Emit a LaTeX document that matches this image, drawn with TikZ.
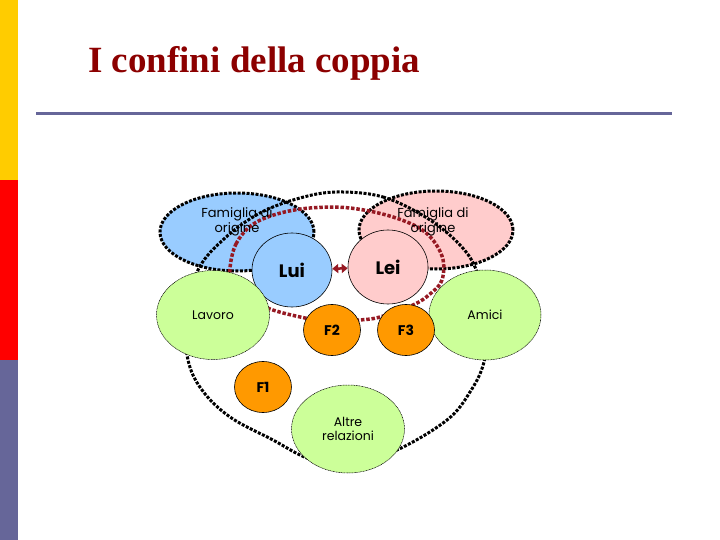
\documentclass[tikz,border=0pt]{standalone}
\usepackage{fontspec}
\usepackage{tikz}
\usetikzlibrary{shapes.geometric,arrows.meta}
\newfontfamily\titlefont{Liberation Serif}
\newfontfamily\diafont{Poppins}

\definecolor{barYellow}{RGB}{255,204,0}
\definecolor{barRed}{RGB}{255,0,0}
\definecolor{barBlue}{RGB}{102,102,153}
\definecolor{titleRed}{RGB}{140,0,0}
\definecolor{confine}{RGB}{150,25,35}
\definecolor{luiBlue}{RGB}{153,204,255}
\definecolor{leiPink}{RGB}{255,204,204}
\definecolor{amiciGreen}{RGB}{204,255,153}
\definecolor{figlioOrange}{RGB}{255,153,0}

\tikzset{
  famiglia/.style={ellipse, fill=#1, draw=black, line width=3pt, dash pattern=on 3pt off 1.5pt,
    minimum width=154pt, minimum height=78pt},
  famTxt/.style={align=center, font=\diafont\fontsize{13}{13}\selectfont},
  partner/.style={ellipse, fill=#1, draw=black, line width=0.6pt, minimum width=80pt, minimum height=74pt,
    font=\diafont\bfseries\fontsize{18}{18}\selectfont},
  mondo/.style={ellipse, fill=amiciGreen, draw=black, line width=0.5pt, dash pattern=on 1pt off 0.6pt,
    minimum width=113pt, minimum height=89pt, align=center, font=\diafont\fontsize{12.5}{14}\selectfont},
  figlio/.style={ellipse, fill=figlioOrange, draw=black, line width=0.6pt, minimum width=57pt, minimum height=51pt,
    font=\diafont\bfseries\fontsize{14}{14}\selectfont},
  confineNero/.style={black, line width=3pt, dash pattern=on 3pt off 1.5pt},
  confineRosso/.style={confine, line width=3.5pt, dash pattern=on 3.5pt off 1.8pt}
}

\begin{document}
\begin{tikzpicture}[x=1pt,y=-1pt]
\useasboundingbox (0,0) rectangle (720,540);
% side bars and title
\fill[barYellow] (0,0) rectangle (18,180);
\fill[barRed] (0,180) rectangle (18,360);
\fill[barBlue] (0,360) rectangle (18,540);
\node[anchor=base west, text=titleRed, font=\titlefont\bfseries\fontsize{37}{37}\selectfont, inner sep=0pt] (titolo) at (88,73) {I confini della coppia};
\draw[barBlue, line width=3pt] (36,114) -- (672,114);

% famiglie di origine
\node[famiglia=luiBlue] (famLui) at (237,232) {};
\node[famiglia=leiPink] (famLei) at (436,230) {};

% confine esterno
\draw[confineNero] plot[smooth cycle, tension=0.6] coordinates {
  (337,192) (383,197) (427,218) (460,245) (477,272) (488,320) (484,362) (470,392)
  (447,420) (397,450) (345,467) (307,458) (273,440) (230,417) (202,390) (188,360)
  (186,318) (198,270) (225,238) (260,213) (300,198)};

% confine della coppia
\draw[confineRosso] plot[smooth cycle, tension=0.6] coordinates {
  (230,268) (236,244) (252,225) (277,214) (310,208) (350,208) (393,217) (425,232)
  (442,256) (442,280) (430,294) (413,305) (380,317) (360,320) (332,322) (305,318)
  (270,309) (245,296) (232,283)};

\node[famTxt] (famLuiTxt) at (237,222) {Famiglia di\\origine};
\node[famTxt] (famLeiTxt) at (433,222) {Famiglia di\\origine};

% coppia
\node[partner=luiBlue] (lui) at (292,270) {Lui};
\node[partner=leiPink] (lei) at (388,267) {Lei};
\draw[confine, line width=2.5pt, {Triangle[length=6pt,width=9pt]}-{Triangle[length=6pt,width=9pt]}] (lui) -- (lei);

% mondo esterno
\node[mondo] (lavoro) at (213,315) {Lavoro};
\node[mondo, minimum width=112pt, minimum height=90pt] (amici) at (485,315) {Amici};
\node[mondo, minimum width=113pt, minimum height=88pt] (altre) at (348,429) {Altre\\relazioni};

% figli
\node[figlio] (f1) at (263,387) {F1};
\node[figlio] (f2) at (332,330) {F2};
\node[figlio] (f3) at (406,330) {F3};
\end{tikzpicture}
\end{document}
